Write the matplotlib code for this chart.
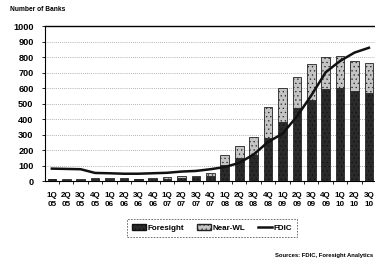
import numpy as np
import matplotlib.pyplot as plt
from matplotlib.patches import Patch
from matplotlib.lines import Line2D

# Quarters and series
quarters = ['1Q\n05', '2Q\n05', '3Q\n05', '4Q\n05', '1Q\n06', '2Q\n06', '3Q\n06', '4Q\n06',
            '1Q\n07', '2Q\n07', '3Q\n07', '4Q\n07', '1Q\n08', '2Q\n08', '3Q\n08', '4Q\n08',
            '1Q\n09', '2Q\n09', '3Q\n09', '4Q\n09', '1Q\n10', '2Q\n10', '3Q\n10']
foresight = [10, 9, 8, 12, 12, 12, 10, 12, 15, 20, 25, 30, 103, 148, 165, 275,
             380, 473, 523, 594, 598, 581, 566]
near_wl = [4, 4, 4, 6, 6, 5, 4, 6, 9, 12, 9, 19, 65, 78, 118, 200,
           222, 200, 230, 204, 208, 195, 197]
fdic = [80, 78, 76, 52, 50, 47, 47, 50, 53, 61, 65, 76, 90, 117, 171, 252,
        305, 416, 552, 702, 775, 829, 860]

plt.rcParams['font.family'] = 'Liberation Sans'
plt.rcParams['hatch.linewidth'] = 0.4

fig = plt.figure(figsize=(3.75, 2.61), dpi=100)
ax = fig.add_axes([0.119, 0.3065, 0.884, 0.5935])

x = np.arange(len(quarters))
ax.bar(x, foresight, width=0.6, color='#2a2a2a', edgecolor='#111111', linewidth=0.5,
       hatch='....', zorder=3)
ax.bar(x, near_wl, width=0.6, bottom=foresight, color='#c4c4c4', edgecolor='#222222',
       linewidth=0.6, hatch='....', zorder=3)
ax.plot(x, fdic, color='#111111', linewidth=1.8, zorder=4)

ax.set_xlim(-0.5, len(quarters) - 0.5)
ax.set_ylim(0, 1000)
ax.set_yticks(range(0, 1001, 100))
ax.set_yticklabels([str(v) for v in range(0, 1001, 100)], fontsize=6.6, fontweight='bold')
ax.set_xticks(x)
ax.set_xticklabels(quarters, fontsize=5.8, fontweight='bold', linespacing=1.45)
ax.tick_params(axis='x', length=0, pad=8)
ax.set_xticks(x[:-1] + 0.5, minor=True)
ax.tick_params(axis='x', which='minor', length=2, width=0.6, direction='out')
ax.tick_params(axis='y', length=2, width=0.6, pad=6)

ax.grid(axis='y', linestyle=(0, (1, 1.5)), color='#999999', linewidth=0.6, zorder=0)
ax.spines['right'].set_visible(False)
ax.spines['top'].set_linewidth(1.0)
ax.spines['left'].set_linewidth(0.8)
ax.spines['bottom'].set_linewidth(0.8)

fig.text(0.027, 0.963, 'Number of Banks', fontsize=4.8, fontweight='bold', va='center')

handles = [Patch(facecolor='#2a2a2a', edgecolor='#111111', hatch='....'),
           Patch(facecolor='#c4c4c4', edgecolor='#222222', hatch='....'),
           Line2D([0], [0], color='#111111', linewidth=1.8)]
leg = fig.legend(handles, ['Foresight', 'Near-WL', 'FDIC'], ncol=3,
                 loc='center', bbox_to_anchor=(212 / 375, 1 - 228 / 261),
                 prop={'size': 5.8, 'weight': 'bold'}, handlelength=1.8, handleheight=0.7,
                 handletextpad=0.2, columnspacing=1.5, borderpad=0.6, fancybox=False)
leg.get_frame().set_linestyle((0, (2, 1.5)))
leg.get_frame().set_edgecolor('#333333')
leg.get_frame().set_linewidth(0.6)

fig.text(0.995, 1 - 255 / 261, 'Sources: FDIC, Foresight Analytics', fontsize=4.2,
         fontweight='bold', va='center', ha='right')

fig.savefig('out.png', dpi=100)
